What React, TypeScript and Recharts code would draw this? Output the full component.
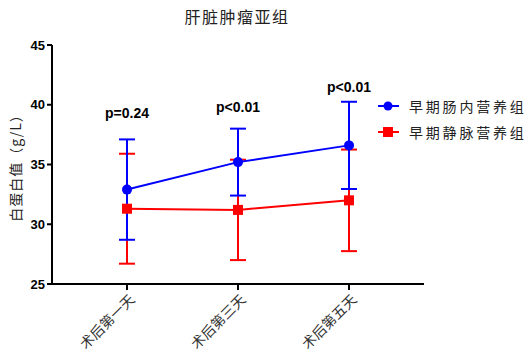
import {
  ComposedChart,
  Line,
  XAxis,
  YAxis,
  ErrorBar,
  ReferenceDot
} from "recharts";

const days = ["术后第一天", "术后第三天", "术后第五天"];
const enteral = [32.9, 35.2, 36.6];
const enteralSd = [4.2, 2.8, 3.65];
const parenteral = [31.3, 31.2, 32.0];
const parenteralSd = [4.6, 4.2, 4.25];
const pValues = ["p=0.24", "p<0.01", "p<0.01"];
const pHeights = [39.3, 39.8, 41.5];

const data = days.map((d, i) => ({
  day: d,
  enteral: enteral[i],
  enteralSd: enteralSd[i],
  parenteral: parenteral[i],
  parenteralSd: parenteralSd[i]
}));

const NUM_FONT = "'Liberation Sans', Arial, sans-serif";
const CJK_FONT = "'Noto Sans CJK SC', sans-serif";

function RotTick({ x, y, payload }: any) {
  return (
    <g transform={`translate(${x + 5},${y + 5})`}>
      <text
        transform="rotate(-45)"
        textAnchor="end"
        dy={5}
        fontSize={14}
        fontFamily={CJK_FONT}
        fill="#333"
      >
        {payload.value}
      </text>
    </g>
  );
}

function SquareDot(props: any) {
  const { cx, cy, index } = props;
  return <rect key={"sq" + index} x={cx - 5} y={cy - 5} width={10} height={10} fill="#ff0000" />;
}

function LegendBox() {
  const items = [
    { name: "早期肠内营养组", color: "#0000ff", shape: "circle" },
    { name: "早期静脉营养组", color: "#ff0000", shape: "square" }
  ];
  return (
    <div style={{ position: "absolute", left: 376, top: 93, width: 152 }}>
      {items.map((it) => (
        <div key={it.name} style={{ display: "flex", alignItems: "center", height: 26 }}>
          <svg width={24} height={12}>
            <line x1={2} y1={6} x2={23} y2={6} stroke={it.color} strokeWidth={2} />
            {it.shape === "circle" ? (
              <circle cx={12} cy={6} r={4.5} fill={it.color} />
            ) : (
              <rect x={7} y={1} width={10} height={10} fill={it.color} />
            )}
          </svg>
          <span style={{ marginLeft: 9, fontSize: 14, fontFamily: CJK_FONT, color: "#222", letterSpacing: 2.8, whiteSpace: "nowrap" }}>
            {it.name}
          </span>
        </div>
      ))}
    </div>
  );
}

export default function App() {
  return (
    <div style={{ position: "absolute", left: 0, top: 0, width: 528, height: 355, background: "#fff" }}>
      <div
        style={{
          position: "absolute",
          left: 0,
          width: 474,
          top: 4,
          textAlign: "center",
          fontSize: 16,
          fontFamily: CJK_FONT,
          color: "#222",
          letterSpacing: 1.5
        }}
      >
        肝脏肿瘤亚组
      </div>
      <ComposedChart
        width={528}
        height={355}
        data={data}
        margin={{ top: 45, right: 104, bottom: 0, left: 0 }}
      >
        <XAxis
          dataKey="day"
          height={71}
          padding={{ left: 75, right: 75 }}
          stroke="#000"
          strokeWidth={2}
          tickLine={{ stroke: "#000", strokeWidth: 2 }}
          tickSize={6}
          tick={<RotTick />}
          interval={0}
        />
        <YAxis
          width={52}
          domain={[25, 45]}
          ticks={[25, 30, 35, 40, 45]}
          stroke="#000"
          strokeWidth={2}
          tickLine={{ stroke: "#000", strokeWidth: 2 }}
          tickSize={5}
          tick={{ fontSize: 13, fontWeight: "bold", fill: "#000", fontFamily: NUM_FONT }}
          label={{
            value: "白蛋白值（g/L）",
            angle: -90,
            position: "insideLeft",
            offset: 16,
            style: { textAnchor: "middle", fontSize: 14, fontFamily: CJK_FONT, fill: "#222", letterSpacing: 1 }
          }}
        />
        <Line
          dataKey="parenteral"
          stroke="#ff0000"
          strokeWidth={2}
          dot={<SquareDot />}
          isAnimationActive={false}
        >
          <ErrorBar dataKey="parenteralSd" width={8} stroke="#ff0000" strokeWidth={2} direction="y" />
        </Line>
        <Line
          dataKey="enteral"
          stroke="#0000ff"
          strokeWidth={2}
          dot={{ r: 5, fill: "#0000ff", stroke: "#0000ff", strokeWidth: 0 }}
          isAnimationActive={false}
        >
          <ErrorBar dataKey="enteralSd" width={8} stroke="#0000ff" strokeWidth={2} direction="y" />
        </Line>
        {days.map((d, i) => (
          <ReferenceDot
            key={d}
            x={d}
            y={pHeights[i]}
            r={0}
            fill="none"
            stroke="none"
            label={{
              value: pValues[i],
              position: "center",
              fontSize: 14,
              fontWeight: "bold",
              fill: "#000",
              fontFamily: NUM_FONT
            }}
          />
        ))}
      </ComposedChart>
      <LegendBox />
    </div>
  );
}
